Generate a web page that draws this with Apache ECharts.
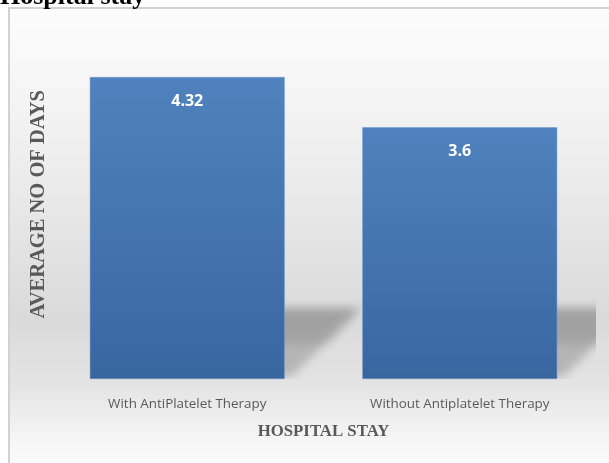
<!DOCTYPE html>
<html>
<head>
<meta charset="utf-8">
<script src="https://cdn.jsdelivr.net/npm/echarts@6/dist/echarts.min.js"></script>
<style>
  html, body { margin: 0; padding: 0; background: #ffffff; }
  #chart { width: 609px; height: 463px; }
</style>
</head>
<body>
<div id="chart"></div>
<script>
// Average hospital stay, with and without antiplatelet therapy
const categories = ['With AntiPlatelet Therapy', 'Without Antiplatelet Therapy'];
const avgDays = [4.32, 3.6];
const chartTitle = 'Hospital stay';
const xAxisTitle = 'HOSPITAL STAY';
const yAxisTitle = 'AVERAGE NO OF DAYS';

const chart = echarts.init(document.getElementById('chart'), null, { renderer: 'canvas' });

// Soft perspective shadow cast behind the foot of each bar.
// The polygon itself is moved off-canvas; only its blurred canvas shadow is shown.
const HIDE = 3000;
function shadowPoly(pts, alpha, blur) {
  return {
    type: 'polygon',
    shape: { points: pts.map(p => [p[0], p[1] - HIDE]) },
    style: {
      fill: '#000',
      shadowBlur: blur,
      shadowOffsetY: HIDE,
      shadowColor: 'rgba(70,70,70,' + alpha + ')'
    }
  };
}
function renderShadow(params, api) {
  const base = api.coord([api.value(0), 0]);
  const w = api.size([1, 0])[0] * 0.715;
  const left = base[0] - w / 2;
  const right = base[0] + w / 2;
  const bottom = base[1];
  const dx = 76, h = 71;
  const full = [
    [left + 8, bottom - 2],
    [left + dx, bottom - h],
    [right + dx, bottom - h],
    [right + 6, bottom - 2]
  ];
  const k = 0.5;
  const upper = [
    [left + dx * k + 8, bottom - h * k],
    [left + dx, bottom - h],
    [right + dx, bottom - h],
    [right + dx * k + 6, bottom - h * k]
  ];
  return {
    type: 'group',
    children: [shadowPoly(full, 0.28, 10), shadowPoly(upper, 0.14, 10)]
  };
}

chart.setOption({
  animation: false,
  graphic: [
    {
      type: 'rect', z: -10, silent: true,
      shape: { x: 9, y: 8, width: 620, height: 470 },
      style: {
        fill: {
          type: 'linear', x: 0, y: 0, x2: 0, y2: 1,
          colorStops: [
            { offset: 0, color: '#fdfdfd' },
            { offset: 0.3, color: '#efefef' },
            { offset: 0.66, color: '#dadada' },
            { offset: 0.8, color: '#e4e4e4' },
            { offset: 0.9, color: '#f3f3f3' },
            { offset: 1, color: '#ffffff' }
          ],
          global: false
        },
        stroke: '#d2d2d2',
        lineWidth: 2
      }
    },
    {
      type: 'text', x: 0, y: 10, z: 10,
      style: {
        text: chartTitle,
        font: 'bold 26px "Liberation Serif", "DejaVu Serif", serif',
        fill: '#000000',
        verticalAlign: 'bottom'
      }
    }
  ],
  grid: { left: 51, right: 13, top: 29.5, bottom: 84, containLabel: false },
  xAxis: {
    type: 'category',
    data: categories,
    axisLine: { show: false },
    axisTick: { show: false },
    axisLabel: {
      color: '#595959',
      fontFamily: '"Open Sans", "Noto Sans", sans-serif',
      fontSize: 13.4,
      margin: 19
    },
    name: xAxisTitle,
    nameLocation: 'middle',
    nameGap: 44,
    nameTextStyle: {
      color: '#595959',
      fontFamily: '"Liberation Serif", serif',
      fontWeight: 'bold',
      fontSize: 16.8
    }
  },
  yAxis: {
    type: 'value',
    min: 0,
    max: 5,
    interval: 1,
    axisLine: { show: false },
    axisTick: { show: false },
    axisLabel: { show: false },
    splitLine: { show: false },
    name: yAxisTitle,
    nameLocation: 'middle',
    nameGap: 2,
    nameRotate: 90,
    nameTextStyle: {
      color: '#595959',
      fontFamily: '"Liberation Serif", serif',
      fontWeight: 'bold',
      fontSize: 20.5
    }
  },
  series: [
    {
      type: 'custom',
      renderItem: renderShadow,
      data: avgDays.map((v, i) => [i, v]),
      encode: { x: 0, y: 1 },
      clip: true,
      z: 1,
      silent: true
    },
    {
      type: 'bar',
      data: avgDays,
      barWidth: '71.5%',
      z: 2,
      itemStyle: {
        color: {
          type: 'linear', x: 0, y: 0, x2: 0, y2: 1,
          colorStops: [
            { offset: 0, color: '#4f82be' },
            { offset: 1, color: '#3a66a0' }
          ]
        },
        borderColor: '#6f98cc',
        borderWidth: 0.5
      },
      label: {
        show: true,
        position: 'insideTop',
        distance: 16,
        color: '#ffffff',
        fontWeight: 'bold',
        fontSize: 16,
        fontFamily: '"Open Sans", "Noto Sans", sans-serif'
      }
    }
  ]
});
</script>
</body>
</html>
